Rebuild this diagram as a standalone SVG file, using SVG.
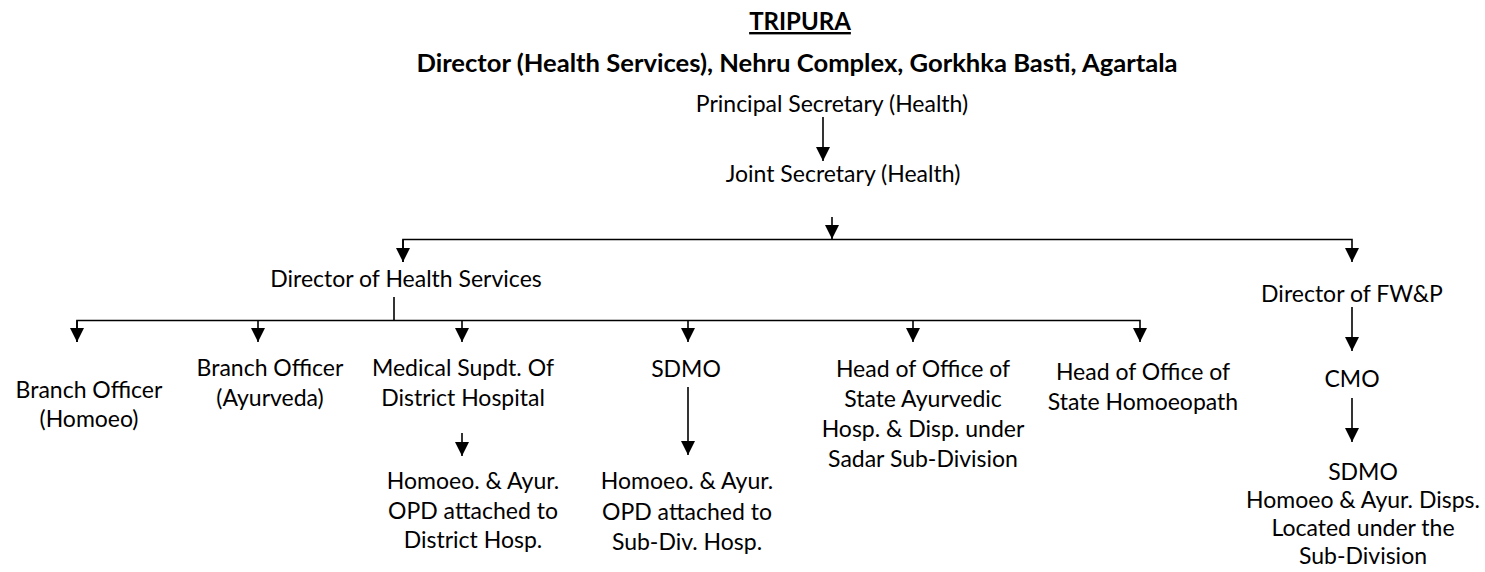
<svg xmlns="http://www.w3.org/2000/svg" width="1485" height="572" viewBox="0 0 1485 572">
<defs>
<style>
text{font-family:Lato,"Liberation Sans",sans-serif;font-size:23px;fill:#000;text-anchor:middle}
.t{font-weight:bold;font-size:24px}
.s{font-weight:bold;font-size:25.6px}
.c path{stroke:#000;stroke-width:1.6;fill:none}
</style>
<marker id="ah" markerUnits="userSpaceOnUse" markerWidth="14" markerHeight="14" refX="14" refY="7" orient="auto">
<path d="M0,0 L14,7 L0,14 z" fill="#000"/>
</marker>
</defs>
<rect width="1485" height="572" fill="#fff"/>
<g id="title">
<text class="t" x="800" y="30" text-decoration="underline">TRIPURA</text>
<text class="s" x="797" y="72">Director (Health Services), Nehru Complex, Gorkhka Basti, Agartala</text>
</g>
<g id="principal"><text x="832" y="112">Principal Secretary (Health)</text></g>
<g id="joint"><text x="843" y="182">Joint Secretary (Health)</text></g>
<g id="dhs"><text x="406" y="287">Director of Health Services</text></g>
<g id="fwp"><text x="1352" y="302">Director of FW&amp;P</text></g>
<g id="bo_homoeo"><text x="89" y="398">Branch Officer</text><text x="89" y="427">(Homoeo)</text></g>
<g id="bo_ayur"><text x="270" y="376">Branch Officer</text><text x="270" y="406">(Ayurveda)</text></g>
<g id="ms"><text x="463" y="376">Medical Supdt. Of</text><text x="463" y="406">District Hospital</text></g>
<g id="opd_dist"><text x="473" y="489">Homoeo. &amp; Ayur.</text><text x="473" y="519">OPD attached to</text><text x="473" y="548">District Hosp.</text></g>
<g id="sdmo"><text x="686" y="377">SDMO</text></g>
<g id="opd_sub"><text x="687" y="489">Homoeo. &amp; Ayur.</text><text x="687" y="520">OPD attached to</text><text x="687" y="550">Sub-Div. Hosp.</text></g>
<g id="ho_ayur"><text x="923" y="377">Head of Office of</text><text x="923" y="407">State Ayurvedic</text><text x="923" y="437">Hosp. &amp; Disp. under</text><text x="923" y="467">Sadar Sub-Division</text></g>
<g id="ho_homoeo"><text x="1143" y="380">Head of Office of</text><text x="1143" y="410">State Homoeopath</text></g>
<g id="cmo"><text x="1352" y="387">CMO</text></g>
<g id="sdmo2"><text x="1363" y="480">SDMO</text><text x="1363" y="508">Homoeo &amp; Ayur. Disps.</text><text x="1363" y="536">Located under the</text><text x="1363" y="564">Sub-Division</text></g>
<g id="connectors" class="c">
<path d="M823,117 V161" marker-end="url(#ah)"/>
<path d="M832,217 V239" marker-end="url(#ah)"/>
<path d="M403,262 V239.5 H1352 V262" marker-end="url(#ah)"/>
<path d="M403,239.5 V262" marker-end="url(#ah)"/>
<path d="M394,297 V320.5"/>
<path d="M77,342 V320.5 H1140 V342" marker-end="url(#ah)"/>
<path d="M77,320.5 V342" marker-end="url(#ah)"/>
<path d="M258,320.5 V342" marker-end="url(#ah)"/>
<path d="M462,320.5 V342" marker-end="url(#ah)"/>
<path d="M688,320.5 V342" marker-end="url(#ah)"/>
<path d="M913,320.5 V342" marker-end="url(#ah)"/>
<path d="M462,433 V456" marker-end="url(#ah)"/>
<path d="M688,387 V455" marker-end="url(#ah)"/>
<path d="M1352,307 V351" marker-end="url(#ah)"/>
<path d="M1352,398 V442" marker-end="url(#ah)"/>
</g>
</svg>
